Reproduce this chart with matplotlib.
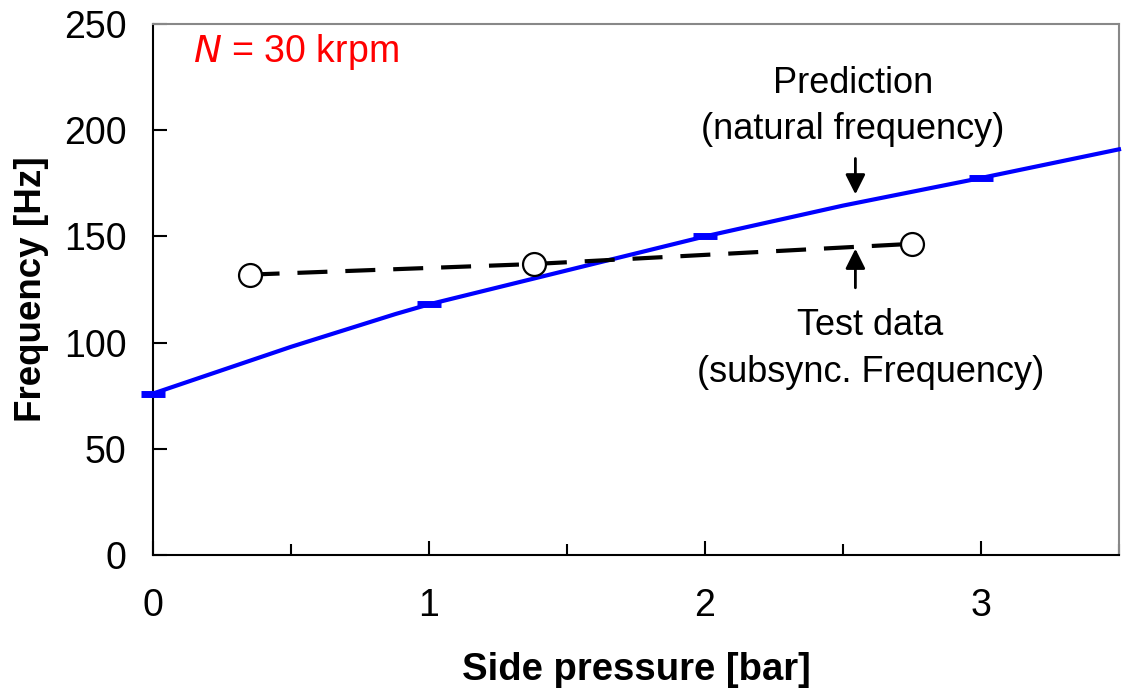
import matplotlib.pyplot as plt
from matplotlib.ticker import MultipleLocator

plt.rcParams['font.family'] = ['Liberation Sans', 'DejaVu Sans']

# predicted natural frequency vs side pressure
pred_p = [0.0, 0.5, 0.88, 1.0, 1.5, 2.0, 2.5, 3.0, 3.5]
pred_f = [76, 98, 113.5, 118, 134, 150, 164.5, 177.5, 191]
# grid points of the prediction
pred_mark_p = [0, 1, 2, 3]
pred_mark_f = [76, 118, 150, 177.5]

# measured subsynchronous frequency
test_p = [0.35, 1.38, 2.75]
test_f = [132, 137, 146.5]

fig = plt.figure(figsize=(11.28, 6.94), dpi=100)
ax = fig.add_axes([0.1356, 0.2003, 0.8564, 0.7651])

ax.plot(pred_p, pred_f, color='#0000ff', lw=3, zorder=3, clip_on=False)
ax.plot(pred_mark_p, pred_mark_f, ls='none', marker='_', ms=17, mew=5,
        color='#0000ff', zorder=3, clip_on=False)
ax.plot(test_p, test_f, color='black', lw=3, ls=(0, (7.2, 4.3)), marker='o',
        ms=16.5, mfc='white', mec='black', mew=1.6, zorder=4)

ax.set_xlim(0, 3.5)
ax.set_ylim(0, 250)
ax.xaxis.set_major_locator(MultipleLocator(1))
ax.xaxis.set_minor_locator(MultipleLocator(0.5))
ax.yaxis.set_major_locator(MultipleLocator(50))
ax.tick_params(axis='both', which='both', direction='in', labelsize=27,
               length=10, width=1.5)
ax.tick_params(axis='x', which='major', pad=24)
ax.tick_params(axis='x', which='minor', length=8)
ax.tick_params(axis='y', pad=19)

for s in ['left', 'bottom']:
    ax.spines[s].set_color('black')
    ax.spines[s].set_linewidth(1.5)
for s in ['top', 'right']:
    ax.spines[s].set_color('#888888')
    ax.spines[s].set_linewidth(1.5)

ax.set_xlabel('Side pressure [bar]', fontsize=27.5, fontweight='bold', labelpad=20)
ax.set_ylabel('Frequency [Hz]', fontsize=26.5, fontweight='bold', labelpad=11)

ax.text(0.145, 237, r'$\it{N}$ = 30 krpm', color='red', fontsize=27,
        ha='left', va='center')

ax.text(2.536, 222, 'Prediction', fontsize=26, ha='center', va='center')
ax.text(2.536, 200.5, '(natural frequency)', fontsize=26, ha='center', va='center')
ax.annotate('', xy=(2.545, 168.5), xytext=(2.545, 188),
            arrowprops=dict(arrowstyle='-|>', color='black', lw=2,
                            mutation_scale=30))

ax.text(2.6, 108, 'Test data', fontsize=26, ha='center', va='center')
ax.text(2.6, 86, '(subsync. Frequency)', fontsize=26, ha='center', va='center')
ax.annotate('', xy=(2.545, 145.5), xytext=(2.545, 124.5),
            arrowprops=dict(arrowstyle='-|>', color='black', lw=2,
                            mutation_scale=30))

fig.savefig('out.png', dpi=100)
